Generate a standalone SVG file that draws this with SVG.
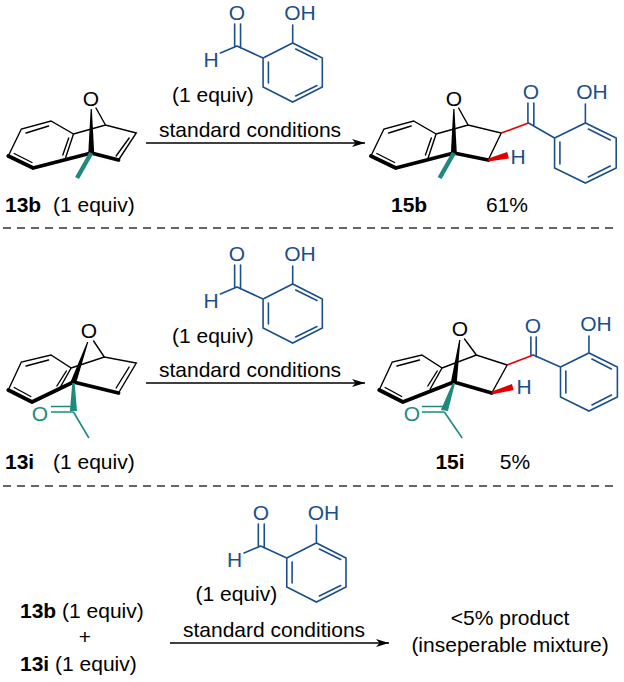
<svg xmlns="http://www.w3.org/2000/svg" width="624" height="682" viewBox="0 0 624 682">
<defs>
<style>
text{font-family:"Liberation Sans",Arial,sans-serif;font-size:21px;fill:#000}
.b{font-weight:bold}
.bl{fill:#1b4f8c}
.tl{fill:#1e8a7e}
path,line{vector-effect:non-scaling-stroke}
.k{stroke:#000;stroke-width:1.4;fill:none;stroke-linecap:round}
.kb{stroke:#000;stroke-width:3.8;fill:none;stroke-linecap:round;stroke-linejoin:round}
.u{stroke:#1b4f8c;stroke-width:1.6;fill:none;stroke-linecap:round}
.t{stroke:#1e8a7e;stroke-width:1.6;fill:none}
.tb{stroke:#1e8a7e;stroke-width:4.5;fill:none}
.r{stroke:#e00000;stroke-width:1.6;fill:none}
.arr{stroke:#000;stroke-width:1.4}
.dash{stroke:#333;stroke-width:1.3;stroke-dasharray:8,6}
</style>
<marker id="ah" markerWidth="14" markerHeight="10" refX="13" refY="5" orient="auto" markerUnits="userSpaceOnUse">
<path d="M0,1 L13,5 L0,9 L3.5,5 Z" fill="#000"/>
</marker>
<path id="sal" class="u" d="M186,53 L200,46 M198,46 L198,24 M203,48 L203,24 M200,46 L222,58 M222,58 L247,43 L272,58 L272,87 L247,102 L222,87 Z M247,43 L247,25 M226.5,62 L226.5,83 M249.5,49 L267.5,59.5 M249.5,96 L267.5,85.5"/>
</defs>

<g id="reagent1">
<g transform="scale(1.185,1)"><use href="#sal"/></g>
<text class="bl" x="237" y="20" text-anchor="middle">O</text>
<text class="bl" x="300" y="20" text-anchor="middle">OH</text>
<text class="bl" x="211" y="67" text-anchor="middle">H</text>
<text x="172" y="102">(1 equiv)</text>
</g>
<g id="reagent2">
<g transform="scale(1.185,1) translate(0,241)"><use href="#sal"/></g>
<text class="bl" x="237" y="261" text-anchor="middle">O</text>
<text class="bl" x="300" y="261" text-anchor="middle">OH</text>
<text class="bl" x="211" y="308" text-anchor="middle">H</text>
<text x="172" y="343">(1 equiv)</text>
</g>
<g id="reagent3">
<g transform="scale(1.185,1) translate(20,500)"><use href="#sal"/></g>
<text class="bl" x="261" y="520" text-anchor="middle">O</text>
<text class="bl" x="323.5" y="520" text-anchor="middle">OH</text>
<text class="bl" x="234.6" y="567" text-anchor="middle">H</text>
<text x="195.5" y="601">(1 equiv)</text>
</g>

<g id="sm13b">
<g transform="scale(1.185,1)">
<path class="k" d="M81,108 L89,125 M7,156 L18,129 L43,121 L62,134 L55,159 M62,134 L89,125 L115,133 L100,160 M22,133 L41,126 M58,138 L53,155 M12,153.5 L27,162.5 M109,138 L98,156"/>
<path class="kb" d="M7,156 L28,168 L77,153 L100,160"/>
<polygon points="76.5,109 77.5,109 79.5,153 74.5,153" fill="#000"/>
<path class="tb" d="M77,153 L65,178"/>
</g>
<text x="91" y="106" text-anchor="middle">O</text>
<text class="b" x="5" y="212">13b</text><text x="53" y="212">(1 equiv)</text>
</g>

<g id="p15b">
<g transform="scale(1.185,1)">
<path class="k" d="M387,108 L395,125 M313,156 L324,129 L349,121 L368,134 L361,159 M368,134 L395,125 L423,133 L412,160 M328,133 L347,126 M364,138 L359,155 M318,153.5 L333,162.5"/>
<path class="kb" d="M313,156 L334,168 L383,153 L412,160"/>
<polygon points="382.5,109 383.5,109 385.5,153 380.5,153" fill="#000"/>
<path class="tb" d="M383,153 L371,178"/>
<polygon points="412,158.5 428,152 429.5,158.5 412,161.5" fill="#e00000"/>
<path class="r" d="M423,133 L446,123"/>
<path class="u" d="M446,123 L468,138 M445.5,123 L445.5,103 M450.5,125 L450.5,103 M468,138 L494,123 L520,138 L520,168 L494,183 L468,168 Z M494,123 L494,104 M472.5,142 L472.5,164 M496.5,129 L515,140 M496.5,177 L515,166"/>
</g>
<text x="454" y="106" text-anchor="middle">O</text>
<text class="bl" x="518" y="164" text-anchor="middle">H</text>
<text class="bl" x="531" y="99" text-anchor="middle">O</text>
<text class="bl" x="592" y="99" text-anchor="middle">OH</text>
<text class="b" x="391" y="212">15b</text><text x="486" y="212">61%</text>
</g>

<g id="sm13i">
<g transform="scale(1.185,1)">
<path class="k" d="M79,341 L88,357 M7,390 L18,362 L43,355 L60,368 L50,389 M60,368 L88,357 L115,363 L100,393 M22,366 L41,360 M56,371 L48,386 M12,387.5 L26,396.5 M109,367 L98,388"/>
<path class="kb" d="M7,390 L27,402 L62,382 L100,393"/>
<polygon points="73.5,342 74.5,342 64.5,382 59.5,382" fill="#000"/>
<polygon points="61,383 63,383 65,411 59,411" fill="#1e8a7e"/>
<path class="t" d="M62,412 L43,412 M60,406.5 L43,406.5 M62,412 L75,438"/>
</g>
<text x="89" y="338" text-anchor="middle">O</text>
<text class="tl" x="40" y="421" text-anchor="middle">O</text>
<text class="b" x="5" y="469">13i</text><text x="53" y="469">(1 equiv)</text>
</g>

<g id="p15i">
<g transform="scale(1.185,1)">
<path class="k" d="M392,339 L402,355 M320,390 L331,362 L356,355 L373,368 L363,389 M373,368 L402,355 L428,365 L415,393 M335,366 L354,360 M369,371 L361,386 M325,387.5 L339,396.5"/>
<path class="kb" d="M320,390 L340,402 L383,382 L415,393"/>
<polygon points="387.5,340 388.5,340 385.5,382 380.5,382" fill="#000"/>
<polygon points="382,383 384,383 378,411 372,410" fill="#1e8a7e"/>
<path class="t" d="M375,412 L356,412 M374,406.5 L356,406.5 M375,412 L390,438"/>
<polygon points="415,391.5 432,384 433.5,390 415,394.5" fill="#e00000"/>
<path class="r" d="M428,365 L450,355"/>
<path class="u" d="M450,355 L473,367 M448,355 L448,337 M452.5,357 L452.5,337 M473,367 L497,353 L521,367 L521,397 L497,411 L473,397 Z M497,353 L497,336 M477.5,371 L477.5,393 M499.5,359 L516,369 M499.5,405 L516,395"/>
</g>
<text x="460" y="336" text-anchor="middle">O</text>
<text class="tl" x="412" y="421" text-anchor="middle">O</text>
<text class="bl" x="524" y="394" text-anchor="middle">H</text>
<text class="bl" x="533" y="333" text-anchor="middle">O</text>
<text class="bl" x="596" y="331" text-anchor="middle">OH</text>
<text class="b" x="450" y="469" text-anchor="middle">15i</text><text x="515" y="469" text-anchor="middle">5%</text>
</g>

<g id="mix">
<text x="20" y="618"><tspan class="b">13b</tspan> (1 equiv)</text>
<text x="85" y="644" text-anchor="middle">+</text>
<text x="20" y="671"><tspan class="b">13i</tspan> (1 equiv)</text>
</g>
<g id="result3">
<text x="510" y="625" text-anchor="middle">&lt;5% product</text>
<text x="510" y="652" text-anchor="middle">(inseperable mixture)</text>
</g>

<g id="connectors">
<line class="arr" x1="146" y1="143" x2="365" y2="143" marker-end="url(#ah)"/>
<text x="250" y="137" text-anchor="middle">standard conditions</text>
<line class="arr" x1="146" y1="383" x2="365" y2="383" marker-end="url(#ah)"/>
<text x="250" y="377" text-anchor="middle">standard conditions</text>
<line class="arr" x1="170" y1="643" x2="389" y2="643" marker-end="url(#ah)"/>
<text x="274" y="637" text-anchor="middle">standard conditions</text>
<line class="dash" x1="3" y1="228" x2="618" y2="228"/>
<line class="dash" x1="3" y1="486" x2="618" y2="486"/>
</g>
</svg>
